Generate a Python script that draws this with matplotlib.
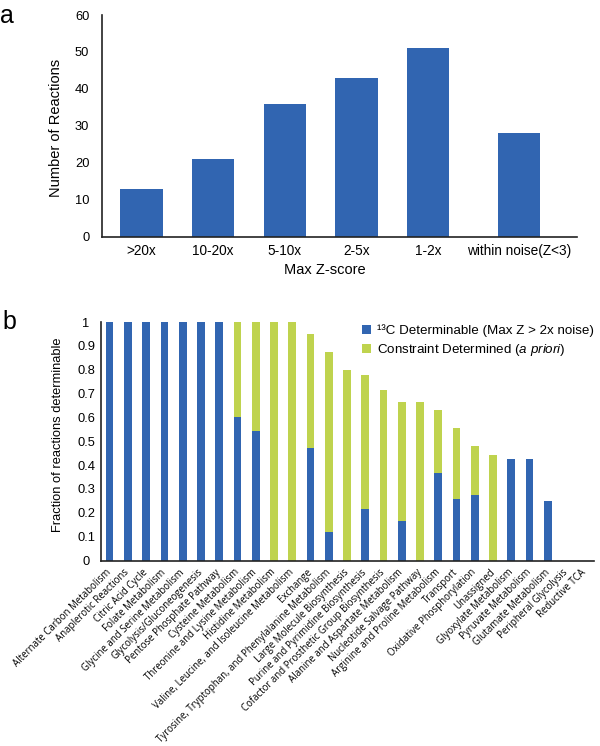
import matplotlib
matplotlib.use("Agg")
import matplotlib.pyplot as plt
from matplotlib.patches import Patch
import numpy as np

plt.rcParams['font.family'] = ['Liberation Sans', 'DejaVu Sans']
plt.rcParams['mathtext.fontset'] = 'custom'
plt.rcParams['mathtext.rm'] = 'Liberation Sans'
plt.rcParams['mathtext.it'] = 'Liberation Sans:italic'

# ---- Panel a data ----
a_categories = [">20x", "10-20x", "5-10x", "2-5x", "1-2x", "within noise(Z<3)"]
a_counts = [13, 21, 36, 43, 51, 28]
a_yticks = [0, 10, 20, 30, 40, 50, 60]

# ---- Panel b data ----
b_categories = [
    "Alternate Carbon Metabolism", "Anaplerotic Reactions", "Citric Acid Cycle",
    "Folate Metabolism", "Glycine and Serine Metabolism", "Glycolysis/Gluconeogenesis",
    "Pentose Phosphate Pathway", "Cysteine Metabolism", "Threonine and Lysine Metabolism",
    "Histidine Metabolism", "Valine, Leucine, and Isoleucine Metabolism", "Exchange",
    "Tyrosine, Tryptophan, and Phenylalanine Metabolism", "Large Molecule Biosynthesis",
    "Purine and Pyrimidine Biosynthesis", "Cofactor and Prosthetic Group Biosynthesis",
    "Alanine and Aspartate Metabolism", "Nucleotide Salvage Pathway",
    "Arginine and Proline Metabolism", "Transport", "Oxidative Phosphorylation",
    "Unassigned", "Glyoxylate Metabolism", "Pyruvate Metabolism",
    "Glutamate Metabolism", "Peripheral Glycolysis", "Reductive TCA",
]
b_c13 = [1, 1, 1, 1, 1, 1, 1, 0.6, 0.545, 0, 0, 0.473, 0.121, 0, 0.218, 0,
         0.165, 0, 0.366, 0.257, 0.274, 0, 0.427, 0.427, 0.248, 0, 0]
b_constraint = [0, 0, 0, 0, 0, 0, 0, 0.4, 0.455, 1, 1, 0.477, 0.753, 0.8, 0.56, 0.714,
                0.5, 0.666, 0.265, 0.298, 0.206, 0.444, 0, 0, 0, 0, 0]
b_yticks = [0, 0.1, 0.2, 0.3, 0.4, 0.5, 0.6, 0.7, 0.8, 0.9, 1]
b_yticklabels = ["0", "0.1", "0.2", "0.3", "0.4", "0.5", "0.6", "0.7", "0.8", "0.9", "1"]
legend_labels = ["\u00b9\u00b3C Determinable (Max Z > 2x noise)",
                 r"Constraint Determined ($\it{a\ priori}$)"]

BLUE = "#3165B1"
GREEN = "#BFD34E"
W, H = 600, 746

fig = plt.figure(figsize=(6, 7.46), dpi=100)

def ax_rect(l, t, r, b):
    return [l / W, 1 - b / H, (r - l) / W, (b - t) / H]

# ---------------- Panel a ----------------
axa = fig.add_axes(ax_rect(101.7, 15, 577, 236.7))
xa = np.arange(len(a_categories), dtype=float)
xa[-1] += 0.27  # Excel layout gap before last category
axa.bar(xa, a_counts, width=0.59, color=BLUE)
axa.set_xlim(-0.556, 6.08)
axa.set_ylim(0, 60)
axa.set_yticks(a_yticks)
axa.set_yticklabels([str(v) for v in a_yticks], fontsize=9.3)
axa.set_xticks(xa)
axa.set_xticklabels(a_categories, fontsize=9.8)
axa.tick_params(axis='y', length=0, pad=8.9)
axa.tick_params(axis='x', length=0, pad=5)
for s in ['top', 'right']:
    axa.spines[s].set_visible(False)
axa.spines['left'].set_color('#222222')
axa.spines['bottom'].set_color('#222222')
axa.spines['left'].set_linewidth(1.2)
axa.spines['bottom'].set_linewidth(1.2)
axa.set_ylabel("Number of Reactions", fontsize=10.5)
axa.yaxis.set_label_coords((63 - 101.7) / 475.3, 0.49)
axa.set_xlabel("Max Z-score", fontsize=10.5)
axa.xaxis.set_label_coords((325 - 101.7) / 475.3, -(270 - 236.7) / 221.7)
axa.xaxis.label.set_va('center')

fig.text(0 / W, 1 - 16 / H, "a", fontsize=18, va='center', ha='left')

# ---------------- Panel b ----------------
axb = fig.add_axes(ax_rect(100.5, 322, 593.5, 560.5))
xb = np.arange(len(b_categories))
axb.bar(xb, b_c13, width=0.42, color=BLUE)
axb.bar(xb, b_constraint, width=0.42, bottom=b_c13, color=GREEN)
axb.set_xlim(-0.5, 26.5)
axb.set_ylim(0, 1)
axb.set_yticks(b_yticks)
axb.set_yticklabels(b_yticklabels, fontsize=9.3, ha='center')
axb.tick_params(axis='y', length=0, pad=10.4)
axb.set_xticks(xb)
axb.set_xticklabels(b_categories, rotation=45, ha='right', va='center',
                    rotation_mode='anchor', fontsize=6.95, family=['Open Sans', 'DejaVu Sans'])
axb.tick_params(axis='x', length=0, pad=7.5)
for s in ['top', 'right']:
    axb.spines[s].set_visible(False)
axb.spines['left'].set_color('#222222')
axb.spines['bottom'].set_color('#222222')
axb.spines['left'].set_linewidth(1.2)
axb.spines['bottom'].set_linewidth(1.2)
axb.set_ylabel("Fraction of reactions determinable", fontsize=9.3)
axb.yaxis.set_label_coords((64 - 100.5) / 493, 1 - (435 - 322) / 238.5)

handles = [Patch(facecolor=BLUE, edgecolor='none'), Patch(facecolor=GREEN, edgecolor='none')]
fig.legend(handles, legend_labels, loc='upper left',
           bbox_to_anchor=(362 / W, 1 - 324 / H), frameon=False, fontsize=9.6,
           handlelength=0.65, handleheight=0.65, handletextpad=0.45,
           labelspacing=0.42, borderpad=0, borderaxespad=0)

fig.text(2 / W, 1 - 322 / H, "b", fontsize=18, va='center', ha='left')

fig.savefig("out.png", dpi=100)
